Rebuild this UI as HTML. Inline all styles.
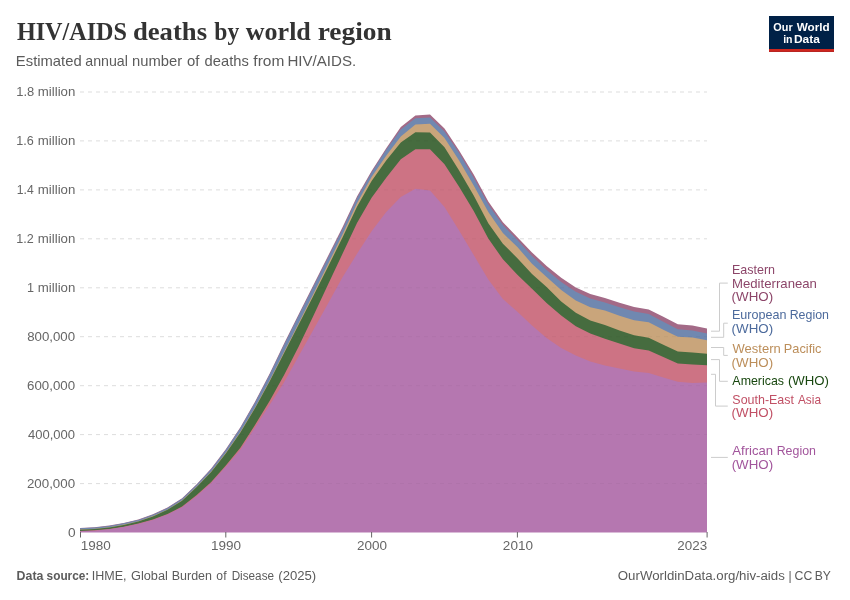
<!DOCTYPE html>
<html lang="en"><head><meta charset="utf-8"><title>HIV/AIDS deaths by world region</title>
<style>html,body{margin:0;padding:0;background:#fff}body{width:850px;height:600px;overflow:hidden}</style></head>
<body>
<svg width="850" height="600" viewBox="0 0 850 600" style="display:block">
<rect width="850" height="600" fill="#fff"/>
<rect x="769" y="16" width="65" height="36" fill="#002147"/><rect x="769" y="49" width="65" height="2.9" fill="#ce261e"/>
<g stroke="#dddddd" stroke-width="1" stroke-dasharray="4,4">
<line x1="80" x2="707" y1="483.6" y2="483.6"/>
<line x1="80" x2="707" y1="434.6" y2="434.6"/>
<line x1="80" x2="707" y1="385.7" y2="385.7"/>
<line x1="80" x2="707" y1="336.7" y2="336.7"/>
<line x1="80" x2="707" y1="287.8" y2="287.8"/>
<line x1="80" x2="707" y1="238.8" y2="238.8"/>
<line x1="80" x2="707" y1="189.9" y2="189.9"/>
<line x1="80" x2="707" y1="140.9" y2="140.9"/>
<line x1="80" x2="707" y1="92.0" y2="92.0"/>
</g>
<defs><clipPath id="areaclip"><path d="M80.0,528.0L94.6,527.3L109.2,525.6L123.7,522.9L138.3,519.5L152.9,514.2L167.5,507.5L182.1,498.2L196.7,484.2L211.2,468.6L225.8,449.2L240.4,427.2L255.0,401.8L269.6,373.7L284.1,343.6L298.7,314.2L313.3,285.3L327.9,256.2L342.5,227.3L357.0,196.5L371.6,171.0L386.2,148.2L400.8,127.1L415.4,115.4L430.0,114.6L444.5,128.6L459.1,150.5L473.7,174.5L488.3,201.6L502.9,222.3L517.4,237.2L532.0,252.5L546.6,265.9L561.2,277.8L575.8,287.4L590.3,294.1L604.9,298.0L619.5,302.8L634.1,307.0L648.7,309.4L663.3,316.8L677.8,324.2L692.4,325.4L707.0,328.5L707.0,532.5L692.4,532.5L677.8,532.5L663.3,532.5L648.7,532.5L634.1,532.5L619.5,532.5L604.9,532.5L590.3,532.5L575.8,532.5L561.2,532.5L546.6,532.5L532.0,532.5L517.4,532.5L502.9,532.5L488.3,532.5L473.7,532.5L459.1,532.5L444.5,532.5L430.0,532.5L415.4,532.5L400.8,532.5L386.2,532.5L371.6,532.5L357.0,532.5L342.5,532.5L327.9,532.5L313.3,532.5L298.7,532.5L284.1,532.5L269.6,532.5L255.0,532.5L240.4,532.5L225.8,532.5L211.2,532.5L196.7,532.5L182.1,532.5L167.5,532.5L152.9,532.5L138.3,532.5L123.7,532.5L109.2,532.5L94.6,532.5L80.0,532.5Z"/></clipPath></defs>
<g>
<path d="M80.0,528.0L94.6,527.3L109.2,525.6L123.7,522.9L138.3,519.5L152.9,514.2L167.5,507.5L182.1,498.2L196.7,484.2L211.2,468.6L225.8,449.2L240.4,427.2L255.0,401.8L269.6,373.7L284.1,343.6L298.7,314.2L313.3,285.3L327.9,256.2L342.5,227.3L357.0,196.5L371.6,171.0L386.2,148.2L400.8,127.1L415.4,115.4L430.0,114.6L444.5,128.6L459.1,150.5L473.7,174.5L488.3,201.6L502.9,222.3L517.4,237.2L532.0,252.5L546.6,265.9L561.2,277.8L575.8,287.4L590.3,294.1L604.9,298.0L619.5,302.8L634.1,307.0L648.7,309.4L663.3,316.8L677.8,324.2L692.4,325.4L707.0,328.5L707.0,534.5L80.0,534.5Z" fill="#a36a87"/>
<path d="M80.0,528.3L94.6,527.6L109.2,526.0L123.7,523.3L138.3,519.9L152.9,514.7L167.5,508.0L182.1,498.7L196.7,484.7L211.2,469.2L225.8,449.9L240.4,428.0L255.0,402.7L269.6,374.7L284.1,344.8L298.7,315.5L313.3,286.8L327.9,257.9L342.5,229.2L357.0,198.2L371.6,172.5L386.2,149.8L400.8,129.6L415.4,118.2L430.0,117.6L444.5,131.4L459.1,153.1L473.7,177.8L488.3,204.5L502.9,225.1L517.4,240.1L532.0,256.0L546.6,269.9L561.2,282.0L575.8,291.7L590.3,298.4L604.9,302.4L619.5,307.3L634.1,311.5L648.7,313.9L663.3,321.8L677.8,329.2L692.4,330.5L707.0,333.6L707.0,534.5L80.0,534.5Z" fill="#7088b0"/>
<path d="M80.0,529.5L94.6,528.8L109.2,527.2L123.7,524.6L138.3,521.2L152.9,516.0L167.5,509.4L182.1,500.3L196.7,486.5L211.2,471.4L225.8,452.8L240.4,431.8L255.0,407.5L269.6,380.5L284.1,351.8L298.7,322.9L313.3,294.0L327.9,264.3L342.5,234.6L357.0,203.2L371.6,177.0L386.2,155.7L400.8,136.4L415.4,124.4L430.0,123.8L444.5,138.0L459.1,160.6L473.7,185.5L488.3,211.9L502.9,233.1L517.4,247.1L532.0,263.8L546.6,277.1L561.2,290.0L575.8,300.4L590.3,307.3L604.9,310.6L619.5,315.8L634.1,320.3L648.7,322.3L663.3,329.7L677.8,336.8L692.4,337.6L707.0,340.3L707.0,534.5L80.0,534.5Z" fill="#c9a57b"/>
<path d="M80.0,529.8L94.6,529.1L109.2,527.5L123.7,524.9L138.3,521.5L152.9,516.4L167.5,509.8L182.1,500.8L196.7,487.0L211.2,471.9L225.8,453.4L240.4,432.5L255.0,408.3L269.6,381.4L284.1,353.0L298.7,324.5L313.3,296.1L327.9,266.9L342.5,237.6L357.0,206.8L371.6,181.1L386.2,160.4L400.8,142.5L415.4,132.3L430.0,132.6L444.5,147.2L459.1,170.5L473.7,195.5L488.3,223.2L502.9,243.7L517.4,258.3L532.0,274.1L546.6,287.1L561.2,301.4L575.8,312.7L590.3,320.4L604.9,325.0L619.5,330.5L634.1,335.2L648.7,337.8L663.3,344.8L677.8,351.5L692.4,352.5L707.0,353.8L707.0,534.5L80.0,534.5Z" fill="#466c3f"/>
<path d="M80.0,530.9L94.6,530.3L109.2,528.9L123.7,526.7L138.3,523.6L152.9,519.4L167.5,514.0L182.1,506.6L196.7,495.0L211.2,482.0L225.8,465.6L240.4,447.7L255.0,424.9L269.6,401.0L284.1,375.0L298.7,346.5L313.3,316.1L327.9,284.7L342.5,253.8L357.0,223.0L371.6,197.8L386.2,177.8L400.8,159.3L415.4,149.2L430.0,149.2L444.5,164.3L459.1,186.7L473.7,211.1L488.3,238.5L502.9,259.3L517.4,274.7L532.0,288.8L546.6,302.9L561.2,315.6L575.8,326.2L590.3,333.5L604.9,338.8L619.5,343.4L634.1,348.2L648.7,350.4L663.3,357.1L677.8,363.4L692.4,364.4L707.0,365.3L707.0,534.5L80.0,534.5Z" fill="#cd7384"/>
<path d="M80.0,531.3L94.6,530.7L109.2,529.3L123.7,527.1L138.3,524.0L152.9,519.9L167.5,514.4L182.1,507.2L196.7,495.9L211.2,483.0L225.8,466.8L240.4,449.8L255.0,427.4L269.6,405.0L284.1,382.2L298.7,356.0L313.3,330.0L327.9,303.8L342.5,277.3L357.0,253.8L371.6,231.3L386.2,212.1L400.8,196.9L415.4,188.8L430.0,190.6L444.5,207.1L459.1,230.5L473.7,255.1L488.3,279.4L502.9,298.9L517.4,311.8L532.0,325.4L546.6,337.9L561.2,347.9L575.8,355.6L590.3,361.5L604.9,365.4L619.5,368.6L634.1,371.5L648.7,372.9L663.3,377.6L677.8,381.8L692.4,382.9L707.0,382.6L707.0,534.5L80.0,534.5Z" fill="#b577b0"/>
</g>
<rect x="79" y="532.5" width="629" height="3" fill="#fff"/>
<g clip-path="url(#areaclip)" stroke="#000" stroke-opacity="0.035" stroke-width="1" stroke-dasharray="4,4">
<line x1="80" x2="707" y1="483.6" y2="483.6"/>
<line x1="80" x2="707" y1="434.6" y2="434.6"/>
<line x1="80" x2="707" y1="385.7" y2="385.7"/>
<line x1="80" x2="707" y1="336.7" y2="336.7"/>
<line x1="80" x2="707" y1="287.8" y2="287.8"/>
<line x1="80" x2="707" y1="238.8" y2="238.8"/>
<line x1="80" x2="707" y1="189.9" y2="189.9"/>
<line x1="80" x2="707" y1="140.9" y2="140.9"/>
<line x1="80" x2="707" y1="92.0" y2="92.0"/>
</g>
<g stroke="#666" stroke-width="1">
<line x1="80.5" x2="80.5" y1="532" y2="537.5"/>
<line x1="225.8" x2="225.8" y1="532" y2="537.5"/>
<line x1="371.6" x2="371.6" y1="532" y2="537.5"/>
<line x1="517.4" x2="517.4" y1="532" y2="537.5"/>
<line x1="707.1" x2="707.1" y1="532" y2="537.5"/>
</g>
<g fill="none" stroke="#cccccc" stroke-width="1">
<path d="M711,331.2H719.5V283.1H727.8"/>
<path d="M711,337.3H723.7V323.2H727.8"/>
<path d="M711,347.5H723.7V355.4H727.8"/>
<path d="M711,359.6H719.5V381.3H727.8"/>
<path d="M711,374.3H715.5V406.1H727.8"/>
<path d="M711,457.4H727.8"/>
</g>
<g>
<text font-family="'Liberation Serif', serif" font-weight="700" font-size="26" fill="#333333"><tspan x="16.94" y="39.5" textLength="110.07" lengthAdjust="spacingAndGlyphs">HIV/AIDS</tspan> <tspan x="132.98" y="39.5" textLength="74.06" lengthAdjust="spacingAndGlyphs">deaths</tspan> <tspan x="214.27" y="39.5" textLength="24.93" lengthAdjust="spacingAndGlyphs">by</tspan> <tspan x="245.80" y="39.5" textLength="65.03" lengthAdjust="spacingAndGlyphs">world</tspan> <tspan x="317.66" y="39.5" textLength="74.00" lengthAdjust="spacingAndGlyphs">region</tspan></text>
<text font-family="'Liberation Sans', sans-serif" font-weight="400" font-size="14.4" fill="#5b5b5b"><tspan x="15.86" y="66.4" textLength="65.84" lengthAdjust="spacingAndGlyphs">Estimated</tspan> <tspan x="85.24" y="66.4" textLength="42.66" lengthAdjust="spacingAndGlyphs">annual</tspan> <tspan x="132.00" y="66.4" textLength="50.07" lengthAdjust="spacingAndGlyphs">number</tspan> <tspan x="186.92" y="66.4" textLength="12.42" lengthAdjust="spacingAndGlyphs">of</tspan> <tspan x="204.61" y="66.4" textLength="44.17" lengthAdjust="spacingAndGlyphs">deaths</tspan> <tspan x="253.36" y="66.4" textLength="30.95" lengthAdjust="spacingAndGlyphs">from</tspan> <tspan x="287.43" y="66.4" textLength="68.81" lengthAdjust="spacingAndGlyphs">HIV/AIDS.</tspan></text>
<text font-family="'Liberation Sans', sans-serif" font-weight="400" font-size="12.6" fill="#666666"><tspan x="68.00" y="536.6" textLength="7.62" lengthAdjust="spacingAndGlyphs">0</tspan></text>
<text font-family="'Liberation Sans', sans-serif" font-weight="400" font-size="12.6" fill="#666666"><tspan x="26.90" y="487.7" textLength="48.19" lengthAdjust="spacingAndGlyphs">200,000</tspan></text>
<text font-family="'Liberation Sans', sans-serif" font-weight="400" font-size="12.6" fill="#666666"><tspan x="28.05" y="438.7" textLength="47.03" lengthAdjust="spacingAndGlyphs">400,000</tspan></text>
<text font-family="'Liberation Sans', sans-serif" font-weight="400" font-size="12.6" fill="#666666"><tspan x="27.07" y="389.8" textLength="48.02" lengthAdjust="spacingAndGlyphs">600,000</tspan></text>
<text font-family="'Liberation Sans', sans-serif" font-weight="400" font-size="12.6" fill="#666666"><tspan x="27.20" y="340.8" textLength="47.89" lengthAdjust="spacingAndGlyphs">800,000</tspan></text>
<text font-family="'Liberation Sans', sans-serif" font-weight="400" font-size="12.6" fill="#666666"><tspan x="26.95" y="291.9">1</tspan> <tspan x="37.80" y="291.9" textLength="37.55" lengthAdjust="spacingAndGlyphs">million</tspan></text>
<text font-family="'Liberation Sans', sans-serif" font-weight="400" font-size="12.6" fill="#666666"><tspan x="16.36" y="242.9" textLength="17.47" lengthAdjust="spacingAndGlyphs">1.2</tspan> <tspan x="37.80" y="242.9" textLength="37.55" lengthAdjust="spacingAndGlyphs">million</tspan></text>
<text font-family="'Liberation Sans', sans-serif" font-weight="400" font-size="12.6" fill="#666666"><tspan x="16.84" y="194.0" textLength="16.88" lengthAdjust="spacingAndGlyphs">1.4</tspan> <tspan x="37.80" y="194.0" textLength="37.55" lengthAdjust="spacingAndGlyphs">million</tspan></text>
<text font-family="'Liberation Sans', sans-serif" font-weight="400" font-size="12.6" fill="#666666"><tspan x="16.35" y="145.0" textLength="17.49" lengthAdjust="spacingAndGlyphs">1.6</tspan> <tspan x="37.80" y="145.0" textLength="37.55" lengthAdjust="spacingAndGlyphs">million</tspan></text>
<text font-family="'Liberation Sans', sans-serif" font-weight="400" font-size="12.6" fill="#666666"><tspan x="16.32" y="96.1" textLength="18.01" lengthAdjust="spacingAndGlyphs">1.8</tspan> <tspan x="37.80" y="96.1" textLength="37.55" lengthAdjust="spacingAndGlyphs">million</tspan></text>
<text font-family="'Liberation Sans', sans-serif" font-weight="400" font-size="12.6" fill="#666666"><tspan x="80.78" y="550.1" textLength="30.08" lengthAdjust="spacingAndGlyphs">1980</tspan></text>
<text font-family="'Liberation Sans', sans-serif" font-weight="400" font-size="12.6" fill="#666666"><tspan x="210.91" y="550.1" textLength="30.08" lengthAdjust="spacingAndGlyphs">1990</tspan></text>
<text font-family="'Liberation Sans', sans-serif" font-weight="400" font-size="12.6" fill="#666666"><tspan x="357.01" y="550.1" textLength="30.04" lengthAdjust="spacingAndGlyphs">2000</tspan></text>
<text font-family="'Liberation Sans', sans-serif" font-weight="400" font-size="12.6" fill="#666666"><tspan x="502.87" y="550.1" textLength="30.09" lengthAdjust="spacingAndGlyphs">2010</tspan></text>
<text font-family="'Liberation Sans', sans-serif" font-weight="400" font-size="12.6" fill="#666666"><tspan x="677.33" y="550.3" textLength="29.83" lengthAdjust="spacingAndGlyphs">2023</tspan></text>
<text font-family="'Liberation Sans', sans-serif" font-weight="400" font-size="12.1" fill="#8c4569"><tspan x="731.98" y="273.8" textLength="43.12" lengthAdjust="spacingAndGlyphs">Eastern</tspan> <tspan x="731.98" y="287.6" textLength="84.98" lengthAdjust="spacingAndGlyphs">Mediterranean</tspan> <tspan x="731.64" y="301.3" textLength="41.53" lengthAdjust="spacingAndGlyphs">(WHO)</tspan></text>
<text font-family="'Liberation Sans', sans-serif" font-weight="400" font-size="12.1" fill="#4c6a9c"><tspan x="731.98" y="319.4" textLength="54.46" lengthAdjust="spacingAndGlyphs">European</tspan> <tspan x="789.68" y="319.4" textLength="39.28" lengthAdjust="spacingAndGlyphs">Region</tspan> <tspan x="731.64" y="333.2" textLength="41.53" lengthAdjust="spacingAndGlyphs">(WHO)</tspan></text>
<text font-family="'Liberation Sans', sans-serif" font-weight="400" font-size="12.1" fill="#bc8e5a"><tspan x="732.58" y="352.9" textLength="48.18" lengthAdjust="spacingAndGlyphs">Western</tspan> <tspan x="783.85" y="352.9" textLength="37.59" lengthAdjust="spacingAndGlyphs">Pacific</tspan> <tspan x="731.64" y="366.7" textLength="41.53" lengthAdjust="spacingAndGlyphs">(WHO)</tspan></text>
<text font-family="'Liberation Sans', sans-serif" font-weight="400" font-size="12.1" fill="#18470f"><tspan x="732.39" y="385.2" textLength="51.63" lengthAdjust="spacingAndGlyphs">Americas</tspan> <tspan x="787.91" y="385.2" textLength="41.12" lengthAdjust="spacingAndGlyphs">(WHO)</tspan></text>
<text font-family="'Liberation Sans', sans-serif" font-weight="400" font-size="12.1" fill="#c15065"><tspan x="732.32" y="403.6" textLength="61.68" lengthAdjust="spacingAndGlyphs">South-East</tspan> <tspan x="797.95" y="403.6" textLength="23.03" lengthAdjust="spacingAndGlyphs">Asia</tspan> <tspan x="731.64" y="417.4" textLength="41.53" lengthAdjust="spacingAndGlyphs">(WHO)</tspan></text>
<text font-family="'Liberation Sans', sans-serif" font-weight="400" font-size="12.1" fill="#a2559c"><tspan x="732.37" y="454.8" textLength="40.81" lengthAdjust="spacingAndGlyphs">African</tspan> <tspan x="776.68" y="454.8" textLength="39.28" lengthAdjust="spacingAndGlyphs">Region</tspan> <tspan x="731.66" y="468.6" textLength="41.44" lengthAdjust="spacingAndGlyphs">(WHO)</tspan></text>
<text font-family="'Liberation Sans', sans-serif" font-weight="700" font-size="12" fill="#5b5b5b"><tspan x="16.61" y="580.3" textLength="26.79" lengthAdjust="spacingAndGlyphs">Data</tspan> <tspan x="46.60" y="580.3" textLength="42.69" lengthAdjust="spacingAndGlyphs">source:</tspan></text>
<text font-family="'Liberation Sans', sans-serif" font-weight="400" font-size="12" fill="#5b5b5b"><tspan x="91.73" y="580.3" textLength="34.77" lengthAdjust="spacingAndGlyphs">IHME,</tspan> <tspan x="131.01" y="580.3" textLength="36.86" lengthAdjust="spacingAndGlyphs">Global</tspan> <tspan x="171.72" y="580.3" textLength="40.24" lengthAdjust="spacingAndGlyphs">Burden</tspan> <tspan x="216.38" y="580.3" textLength="10.14" lengthAdjust="spacingAndGlyphs">of</tspan> <tspan x="231.64" y="580.3" textLength="42.40" lengthAdjust="spacingAndGlyphs">Disease</tspan> <tspan x="278.28" y="580.3" textLength="37.96" lengthAdjust="spacingAndGlyphs">(2025)</tspan></text>
<text font-family="'Liberation Sans', sans-serif" font-weight="400" font-size="12" fill="#5b5b5b"><tspan x="617.79" y="580.3" textLength="167.03" lengthAdjust="spacingAndGlyphs">OurWorldinData.org/hiv-aids</tspan> <tspan x="788.42" y="580.3">|</tspan> <tspan x="794.63" y="580.3" textLength="17.73" lengthAdjust="spacingAndGlyphs">CC</tspan> <tspan x="814.71" y="580.3" textLength="16.17" lengthAdjust="spacingAndGlyphs">BY</tspan></text>
<text font-family="'Liberation Sans', sans-serif" font-weight="700" font-size="11.6" fill="#ffffff"><tspan x="773.31" y="30.6" textLength="19.34" lengthAdjust="spacingAndGlyphs">Our</tspan> <tspan x="796.77" y="30.6" textLength="32.94" lengthAdjust="spacingAndGlyphs">World</tspan> <tspan x="783.19" y="42.6" textLength="9.37" lengthAdjust="spacingAndGlyphs">in</tspan> <tspan x="793.98" y="42.6" textLength="25.95" lengthAdjust="spacingAndGlyphs">Data</tspan></text>
</g>
</svg>
</body></html>
